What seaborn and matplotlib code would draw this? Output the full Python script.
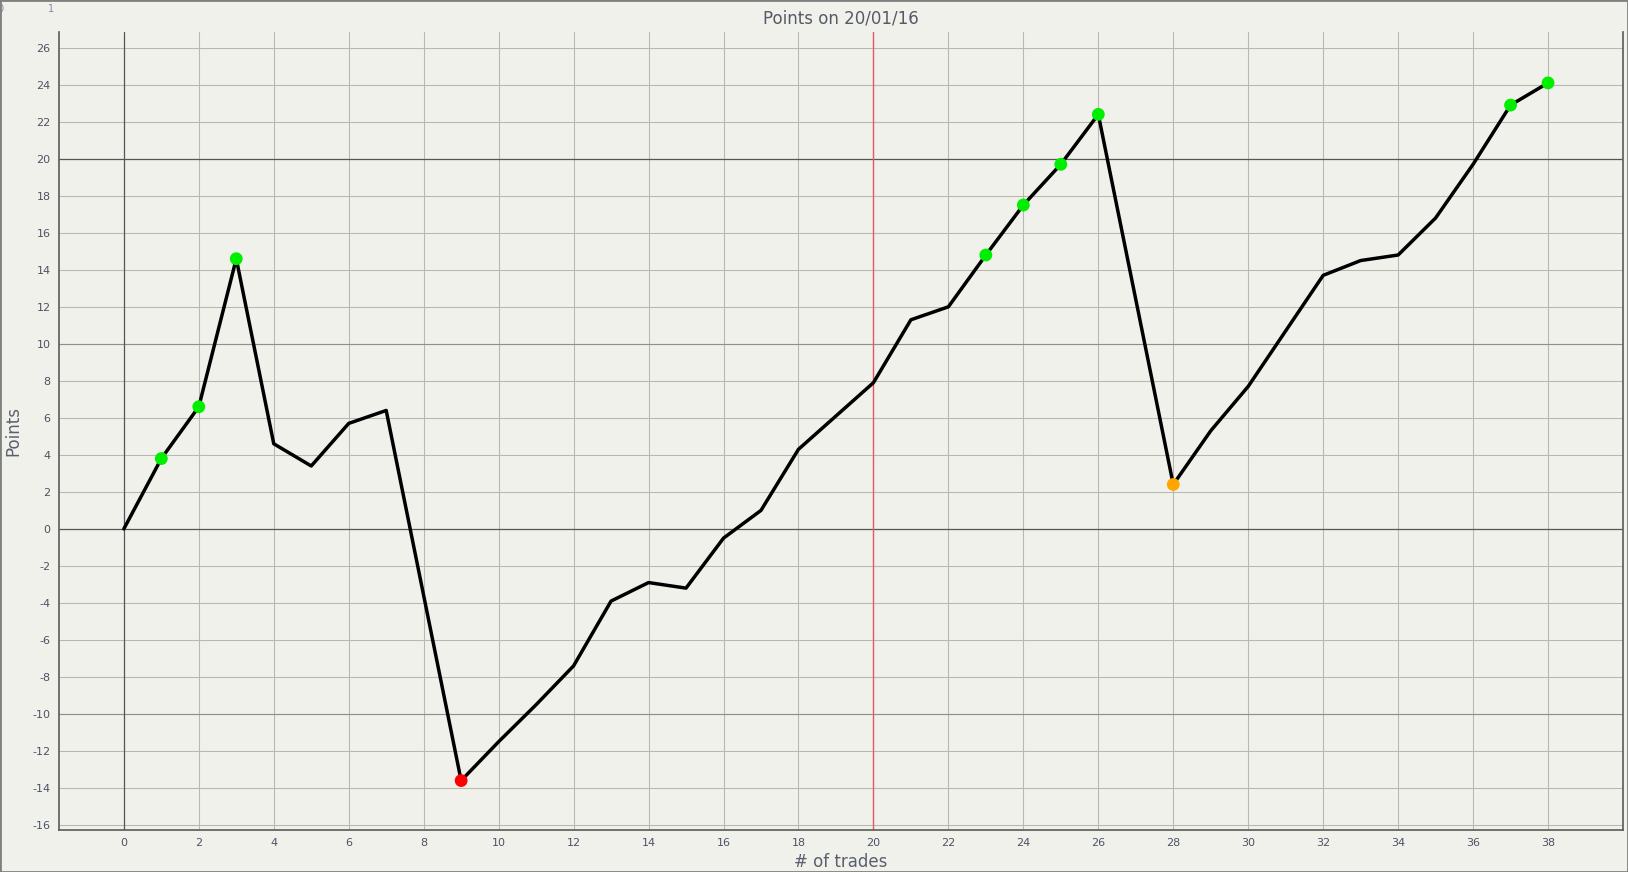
import matplotlib
matplotlib.use('Agg')
import matplotlib.pyplot as plt
import seaborn as sns
import pandas as pd
from matplotlib.patches import Rectangle

# ---- data ----
trades = [0, 1, 2, 3, 4, 5, 6, 7,
          9, 10, 11, 12, 13, 14, 15, 16, 17, 18, 19, 20, 21, 22, 23, 24, 25, 26,
          28, 29, 30, 31, 32, 33, 34, 35, 36, 37, 38]
points = [0.0, 3.8, 6.6, 14.6, 4.6, 3.4, 5.7, 6.4,
          -13.6, -11.5, -9.5, -7.4, -3.9, -2.9, -3.2, -0.5, 1.0, 4.3, 6.1, 7.9, 11.3, 12.0, 14.8, 17.5, 19.7, 22.4,
          2.4, 5.3, 7.7, 10.7, 13.7, 14.5, 14.8, 16.8, 19.7, 22.9, 24.1]
mark_trades = [1, 2, 3, 9, 23, 24, 25, 26, 28, 37, 38]
mark_kind = ['up', 'up', 'up', 'low', 'up', 'up', 'up', 'up', 'mid', 'up', 'up']
x_ticks = list(range(0, 40, 2))
y_ticks = list(range(-16, 28, 2))
title = "Points on 20/01/16"
x_label = "# of trades"
y_label = "Points"

line_df = pd.DataFrame({'trade': trades, 'points': points})
lookup = dict(zip(trades, points))
mark_df = pd.DataFrame({'trade': mark_trades,
                        'points': [lookup[t] for t in mark_trades],
                        'kind': mark_kind})
palette = {'up': '#00ee00', 'low': '#ff0000', 'mid': '#ffa500'}

bg = '#f1f1ec'
sns.set_theme(style='white', rc={'axes.facecolor': bg, 'figure.facecolor': bg})
plt.rcParams['font.family'] = ['DejaVu Sans']
plt.rcParams['axes.unicode_minus'] = False

W, H = 1628, 872
fig = plt.figure(figsize=(W / 100, H / 100), dpi=100)
ax_l, ax_r, ax_t, ax_b = 59, 1623, 32, 830
ax = fig.add_axes([ax_l / W, 1 - ax_b / H, (ax_r - ax_l) / W, (ax_b - ax_t) / H])

sns.lineplot(data=line_df, x='trade', y='points', ax=ax, color='black',
             linewidth=2.5, zorder=5, legend=False)
sns.scatterplot(data=mark_df, x='trade', y='points', hue='kind', palette=palette,
                ax=ax, s=85, edgecolor='none', linewidth=0, zorder=6, legend=False)

ax.set_xlim(-1.73, 40.0)
ax.set_ylim(-16.27, 26.85)
ax.set_xticks(x_ticks)
ax.set_yticks(y_ticks)
ax.tick_params(axis='both', length=0, labelsize=8, labelcolor='#4c5264', pad=6)

ax.grid(True, color='#b8b8b0', linewidth=0.75, zorder=0)
ax.set_axisbelow(True)
for yv in (10, -10):
    ax.axhline(yv, color='#8e8e8a', linewidth=0.8, zorder=1)
for yv in (0, 20):
    ax.axhline(yv, color='#555555', linewidth=0.9, zorder=1)
ax.axvline(0, color='#555555', linewidth=0.9, zorder=1)
ax.axvline(20, color='#e8546a', linewidth=1.0, zorder=1)

for side in ('left', 'bottom', 'right'):
    ax.spines[side].set_visible(True)
    ax.spines[side].set_color('#5a5a5a')
    ax.spines[side].set_linewidth(1.2)
ax.spines['top'].set_visible(False)

ax.set_xlabel(x_label, fontsize=12, color='#5a5f6e')
ax.set_ylabel(y_label, fontsize=12, color='#5a5f6e')
ax.xaxis.set_label_coords(0.5, -(862 - ax_b) / (ax_b - ax_t))
ax.xaxis.label.set_va('center')
ax.yaxis.set_label_coords(-(ax_l - 13) / (ax_r - ax_l), 0.5)
ax.yaxis.label.set_va('center')
ax.set_title(title, fontsize=12, color='#555a66', pad=6)

# small artefact labels top-left
fig.text(0.0, 1 - 9 / H, '0', fontsize=7, color='#8088a8', ha='center', va='center')
fig.text(51 / W, 1 - 9 / H, '1', fontsize=7, color='#8088a8', ha='center', va='center')

# figure border
fig.patches.append(Rectangle((0, 0), 1, 1, transform=fig.transFigure, fill=False,
                             edgecolor='#808080', linewidth=2.0, zorder=10))

fig.savefig('out.png', dpi=100, facecolor=bg)
